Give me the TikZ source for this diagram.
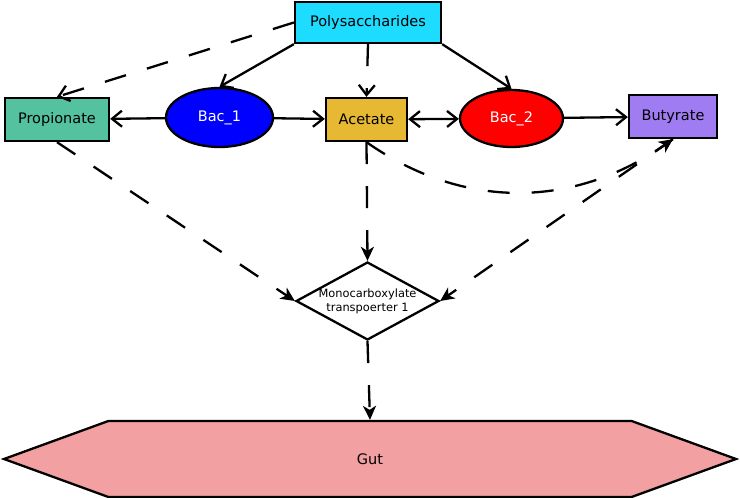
\documentclass[tikz,border=0pt]{standalone}
\usepackage{fontspec}
\setmainfont{DejaVu Sans}
\usetikzlibrary{arrows.meta,shapes.geometric,shapes.symbols}

\definecolor{polycol}{RGB}{30,220,255}
\definecolor{propcol}{RGB}{84,194,158}
\definecolor{acetcol}{RGB}{231,185,51}
\definecolor{butycol}{RGB}{160,124,242}
\definecolor{gutcol}{RGB}{243,160,162}

\tikzset{
  box/.style={draw, line width=2.3pt, minimum height=43pt, inner sep=0pt,
    font=\fontsize{14.5}{17}\selectfont},
  bac/.style={draw, ellipse, line width=2.3pt, inner sep=0pt, text=white,
    font=\fontsize{14.5}{17}\selectfont},
  flow/.style={line width=2.3pt, -{Straight Barb[length=10pt,width=16pt]}},
  dflow/.style={flow, dash pattern=on 22pt off 22pt},
  sflow/.style={line width=2.3pt, dash pattern=on 22pt off 22pt,
    -{Stealth[length=14pt,width=13pt,inset=4pt]}}
}

\begin{document}
\begin{tikzpicture}[x=1pt,y=1pt]
\useasboundingbox (0,0) rectangle (740,-498);

% substrates, bacteria and products
\node (poly) [box, fill=polycol, minimum width=146pt, minimum height=41pt] at (368,-22.5) {Polysaccharides};
\node (prop) [box, fill=propcol, minimum width=104pt] at (57,-119.5) {Propionate};
\node (bac1) [bac, fill=blue, minimum width=107pt, minimum height=59pt] at (219.5,-117.5) {Bac\_1};
\node (acet) [box, fill=acetcol, minimum width=81pt] at (366.5,-119.5) {Acetate};
\node (bac2) [bac, fill=red, minimum width=103pt, minimum height=57pt] at (511.5,-118.5) {Bac\_2};
\node (buty) [box, fill=butycol, minimum width=88pt] at (673,-116.5) {Butyrate};

% transporter and gut
\node (mct) [diamond, draw, line width=2.3pt, fill=white, aspect=1.83,
  minimum width=143pt, minimum height=78pt, inner xsep=-6pt, inner ysep=-2pt,
  align=center, font=\fontsize{11.4}{14}\selectfont] at (367.5,-301) {Monocarboxylate\\transpoerter 1};
\node (gut) [signal, signal to=west and east, signal pointer angle=40, draw,
  line width=2.3pt, fill=gutcol, minimum width=732pt, minimum height=76pt, inner sep=0pt,
  font=\fontsize{14.5}{17}\selectfont] at (370,-459) {Gut};

\draw[dflow] (poly.west) -- (prop.north);
\draw[flow] (poly.south west) -- (bac1.north);
\draw[dflow] (poly.south) -- (acet.north);
\draw[flow] (poly.south east) -- (bac2.north);
\draw[flow] (bac1) -- (prop);
\draw[flow] (bac1) -- (acet);
\draw[flow, {Straight Barb[length=10pt,width=16pt]}-{Straight Barb[length=10pt,width=16pt]}] (acet) -- (bac2);
\draw[flow] (bac2) -- (buty);

\draw[sflow] (prop.south) -- (mct.west);
\draw[sflow] (acet.south) -- (mct.north);
\draw[sflow] (buty.south) -- (mct.east);
\draw[sflow] (acet.south) to[out=-35,in=-145] (buty.south);
\draw[sflow] (mct.south) -- (gut.north);
\end{tikzpicture}
\end{document}
